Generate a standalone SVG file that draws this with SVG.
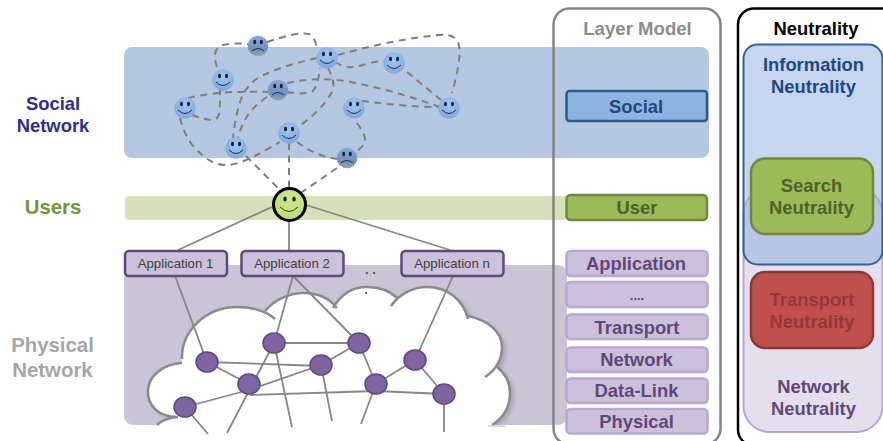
<svg xmlns="http://www.w3.org/2000/svg" width="883" height="441" viewBox="0 0 883 441">
<style>
text{font-family:"Liberation Sans",Arial,sans-serif;font-weight:bold;text-anchor:middle}
.h{font-size:18.4px}
.lay{fill:#ccc1da;stroke:#b9a7d1;stroke-width:2.5}
.layt{fill:#5f497a;font-size:18.4px}
.app{fill:#ccc1da;stroke:#5f497a;stroke-width:2.5}
.appt{fill:#404040;font-size:13.2px;font-weight:normal}
.dash{fill:none;stroke:#7f7e7a;stroke-width:2;stroke-dasharray:7 5.5}
.sol{fill:none;stroke:#868686;stroke-width:1.8}
.pn{fill:#8064a2;stroke:#5f497a;stroke-width:1.5}
.eye{fill:#10202f}
.mouth{fill:none;stroke:#1c3048;stroke-width:1}
.cl{fill:none;stroke:#8a8a8a;stroke-width:2.5}
</style>
<defs>
<radialGradient id="fb" cx="50%" cy="35%" r="65%"><stop offset="0" stop-color="#a5c6f2"/><stop offset="1" stop-color="#7fa8de"/></radialGradient>
<linearGradient id="fs" x1="0" y1="0" x2="0" y2="1"><stop offset="0" stop-color="#86a7d8"/><stop offset=".7" stop-color="#6f90bf"/><stop offset="1" stop-color="#9aa3ad"/></linearGradient>
<radialGradient id="fg" cx="50%" cy="35%" r="65%"><stop offset="0" stop-color="#cfe78e"/><stop offset="1" stop-color="#bcdc78"/></radialGradient>
<filter id="blur" x="-10%" y="-10%" width="120%" height="120%"><feGaussianBlur stdDeviation="2"/></filter>
<clipPath id="shadowclip"><rect x="100" y="260" width="470" height="165"/></clipPath>
<g id="smile"><circle r="10.7" fill="url(#fb)"/><ellipse class="eye" cx="-3.5" cy="-4" rx="1.5" ry="2.2"/><ellipse class="eye" cx="3.5" cy="-4" rx="1.5" ry="2.2"/><path class="mouth" d="M-7 2Q0 9 7 2"/></g>
<g id="sad"><circle r="10.3" fill="url(#fs)"/><ellipse class="eye" cx="-3.3" cy="-4" rx="1.5" ry="2.2"/><ellipse class="eye" cx="3.3" cy="-4" rx="1.5" ry="2.2"/><path class="mouth" d="M-6 5Q0 0 6 5"/></g>
<path id="cloudfill" d="M157 441L157 425Q164 418 178 417C158 417 147 405 148 390C149 374 165 364 182 363C178 335 205 307 237 307C248 307 258 308 265 311C276 298 292 293 303 293C318 293 329 298 335 307C341 294 353 287 367 287C380 287 390 291 397 298C406 291 416 287 427 287C448 287 463 300 468 316C488 320 502 332 502 347C502 353 500 360 497 367C506 374 510 383 510 393C510 407 503 418 492 425L492 441Z"/>
</defs>

<g id="bands">
<rect x="124" y="47" width="585" height="111" rx="8" fill="#b4c8e2"/>
<rect x="125" y="196" width="442" height="24" rx="4" fill="#d6e1b9"/>
<rect x="124" y="265" width="443" height="160" rx="9" fill="#cbc4d6"/>
</g>

<g id="cloud">
<g clip-path="url(#shadowclip)"><use href="#cloudfill" x="4" y="3" fill="#8f8a98" opacity=".55" filter="url(#blur)"/></g>
<use href="#cloudfill" fill="#fff"/>
<path class="cl" d="M157 425Q164 418 178 417C158 417 147 405 148 390C149 374 165 364 182 363"/>
<path class="cl" d="M182 359C181 332 205 307 237 307C252 307 266 311 275 319"/>
<path class="cl" d="M265 311C276 298 292 293 303 293C318 293 330 299 337 308"/>
<path class="cl" d="M333 308C341 294 353 287 367 287C380 287 390 291 397 298"/>
<path class="cl" d="M391 306C400 293 414 287 427 287C448 287 463 300 468 319"/>
<path class="cl" d="M468 316C488 320 502 332 502 347C502 358 497 369 485 377"/>
<path class="cl" d="M497 367C506 374 510 383 510 393C510 407 503 418 492 425"/>
<path d="M488 426H505" stroke="#bbb" stroke-width="1"/>
</g>

<g id="connectors">
<g class="dashes">
<path class="dash" d="M217 67C214 58 214 50 219 47C224 43 238 43 248 44"/>
<path class="dash" d="M267 42C285 36 300 32 309 34C314 36 316 43 317 48"/>
<path class="dash" d="M317 58C295 63 270 70 255 80C243 90 240 100 237 113C235 122 234 130 233 138"/>
<path class="dash" d="M338 55C370 46 405 38 440 35C452 34 458 38 459 46C461 60 456 78 452 93"/>
<path class="dash" d="M335 62C342 66 348 68 353 67C362 66 372 62 380 61"/>
<path class="dash" d="M407 72L441 100"/>
<path class="dash" d="M362 101C385 104 415 107 438 107"/>
<path class="dash" d="M287 83C305 79 325 78 345 81C380 87 415 98 440 107"/>
<path class="dash" d="M188 98C215 92 240 91 268 92"/>
<path class="dash" d="M287 92C297 94 307 94 313 91C318 85 319 75 320 68"/>
<path class="dash" d="M328 68C333 78 335 85 332 92C325 105 312 117 298 127"/>
<path class="dash" d="M192 115C200 118 208 120 213 120C220 119 220 113 220 90"/>
<path class="dash" d="M267 97C255 105 248 113 244 122C241 128 239 133 238 138"/>
<path class="dash" d="M180 118C183 130 187 138 193 146C203 157 212 164 224 165C240 166 262 152 280 142"/>
<path class="dash" d="M357 123C362 130 366 137 365 141C364 146 360 149 355 152"/>
<path class="dash" d="M297 142C308 150 320 157 338 159"/>
<path class="dash" d="M289 143V188"/>
<path class="dash" d="M246 156L280 190"/>
<path class="dash" d="M337 168L302 192"/>
</g>
<g class="solid">
<path class="sol" d="M272 207L178 250M289 221V251M306 205L450 250"/>
<path class="sol" d="M175 276L207 362M293 276L274 343M293 276L359 343M453 276L415 360"/>
<path class="sol" d="M207 362L321 366M207 362L249 384M274 343H359M359 343L321 365M359 343L376 384M321 365L249 390L185 407M250 395L376 391L444 394M415 360L376 384M415 360L444 394"/>
<path class="sol" d="M274 343L227 433M274 343L292 427M321 365L332 421M376 384L361 424M444 394L444 432M185 407L208 434"/>
</g>
</g>

<g id="pnodes">
<g id="p1"><ellipse class="pn" cx="207" cy="362" rx="11" ry="10"/></g>
<g id="p2"><ellipse class="pn" cx="274" cy="343" rx="11" ry="10"/></g>
<g id="p3"><ellipse class="pn" cx="359" cy="343" rx="11" ry="10"/></g>
<g id="p4"><ellipse class="pn" cx="321" cy="365" rx="11" ry="10"/></g>
<g id="p5"><ellipse class="pn" cx="249" cy="384" rx="11" ry="10"/></g>
<g id="p6"><ellipse class="pn" cx="376" cy="384" rx="11" ry="10"/></g>
<g id="p7"><ellipse class="pn" cx="415" cy="360" rx="11" ry="10"/></g>
<g id="p8"><ellipse class="pn" cx="444" cy="394" rx="11" ry="10"/></g>
<g id="p9"><ellipse class="pn" cx="185" cy="407" rx="11" ry="10"/></g>
</g>

<g id="faces">
<g id="f1"><use href="#sad" x="258" y="46"/></g>
<g id="f2"><use href="#smile" x="327" y="58"/></g>
<g id="f3"><use href="#smile" x="394" y="63"/></g>
<g id="f4"><use href="#smile" x="223" y="80"/></g>
<g id="f5"><use href="#smile" x="185" y="108"/></g>
<g id="f6"><use href="#sad" x="278" y="90"/></g>
<g id="f7"><use href="#smile" x="354" y="108"/></g>
<g id="f8"><use href="#smile" x="449" y="108"/></g>
<g id="f9"><use href="#smile" x="289" y="133"/></g>
<g id="f10"><use href="#smile" x="236" y="148"/></g>
<g id="f11"><use href="#sad" x="347" y="158"/></g>
</g>

<g id="user-face">
<circle cx="289.500" cy="204.500" r="16" fill="url(#fg)" stroke="#000" stroke-width="3"/>
<ellipse class="eye" cx="285" cy="199" rx="1.7" ry="2.5"/><ellipse class="eye" cx="294" cy="199" rx="1.7" ry="2.5"/>
<path d="M280 207Q289 216 298 207" fill="none" stroke="#2f3a10" stroke-width="1"/>
</g>

<g id="app1"><rect class="app" x="125" y="251" width="102" height="25" rx="4"/><text class="appt" x="175.500" y="268">Application 1</text></g>
<g id="app2"><rect class="app" x="241.500" y="251" width="102" height="25" rx="4"/><text class="appt" x="292" y="268">Application 2</text></g>
<g id="appn"><rect class="app" x="401.500" y="251" width="102" height="25" rx="4"/><text class="appt" x="452" y="268">Application n</text></g>
<text x="370.500" y="274" fill="#5f497a" style="font-size:13px">. .</text>
<text x="366" y="294" fill="#5f497a" style="font-size:13px">.</text>

<g id="label-social"><text x="53" y="110" fill="#2e2e90" class="h">Social</text><text x="53" y="132" fill="#2e2e90" class="h">Network</text></g>
<text id="label-users" x="53" y="213.500" fill="#76923c" style="font-size:20.400px">Users</text>
<g id="label-physical"><text x="52.500" y="352" fill="#a6a6a6" style="font-size:20.400px">Physical</text><text x="52.500" y="377" fill="#a6a6a6" style="font-size:20.400px">Network</text></g>

<g id="layer-model">
<rect x="553.500" y="8.500" width="167" height="436" rx="16" fill="none" stroke="#808080" stroke-opacity=".95" stroke-width="2.500"/>
<text x="637.500" y="35" fill="#8c8c8c" style="font-size:18.600px">Layer Model</text>
</g>
<g id="l-social"><rect x="566.500" y="91" width="140.500" height="30" rx="3" fill="#8db3e2" stroke="#2f5a8c" stroke-width="2.500"/><text x="636" y="112.500" fill="#1f497d" class="h">Social</text></g>
<g id="l-user"><rect x="566.500" y="195" width="140.500" height="25" rx="4" fill="#9bbb59" stroke="#71893f" stroke-width="2.500"/><text x="637" y="214" fill="#4f6228" class="h">User</text></g>
<g id="l-app"><rect class="lay" x="566.500" y="251" width="141" height="25" rx="4"/><text class="layt" x="636" y="270">Application</text></g>
<g id="l-dots"><rect class="lay" x="566.500" y="282" width="141" height="25" rx="4"/><text class="layt" x="637" y="300" style="font-size:13px">....</text></g>
<g id="l-transport"><rect class="lay" x="566.500" y="314.500" width="141" height="24.500" rx="4"/><text class="layt" x="637" y="333.500">Transport</text></g>
<g id="l-network"><rect class="lay" x="566.500" y="347.500" width="141" height="24.500" rx="4"/><text class="layt" x="636.500" y="366">Network</text></g>
<g id="l-datalink"><rect class="lay" x="566.500" y="378.500" width="141" height="24.500" rx="4"/><text class="layt" x="636.500" y="397">Data-Link</text></g>
<g id="l-physical"><rect class="lay" x="566.500" y="409" width="141" height="24.500" rx="4"/><text class="layt" x="636.500" y="428">Physical</text></g>

<g id="neutrality">
<rect x="738" y="8.500" width="170" height="437" rx="16" fill="#fff" stroke="#000" stroke-width="2.500"/>
<text x="816" y="35" fill="#000" class="h">Neutrality</text>
</g>
<g id="network-neutrality">
<rect x="743.500" y="188" width="139" height="244" rx="26" fill="#e4dfec" stroke="#b7a5d0" stroke-width="2"/>
<text x="813.500" y="392.500" fill="#5f497a" class="h">Network</text><text x="813.500" y="415" fill="#5f497a" class="h">Neutrality</text>
</g>
<g id="information-neutrality">
<rect x="743.500" y="44.500" width="139" height="220" rx="14" fill="#90b1df" fill-opacity=".52" stroke="#386196" stroke-width="2"/>
<text x="813.500" y="70.500" fill="#1f497d" class="h">Information</text><text x="813.500" y="93" fill="#1f497d" class="h">Neutrality</text>
</g>
<g id="search-neutrality">
<rect x="751" y="158.500" width="122" height="75.500" rx="14" fill="#9bbb59" stroke="#71893f" stroke-width="2.500"/>
<text x="811.500" y="191.500" fill="#4f6228" class="h">Search</text><text x="811.500" y="214" fill="#4f6228" class="h">Neutrality</text>
</g>
<g id="transport-neutrality">
<rect x="751" y="272" width="122" height="76" rx="14" fill="#c0504d" stroke="#8c3836" stroke-width="2.500"/>
<text x="812" y="305.500" fill="#953735" class="h">Transport</text><text x="812" y="328" fill="#953735" class="h">Neutrality</text>
</g>
</svg>
